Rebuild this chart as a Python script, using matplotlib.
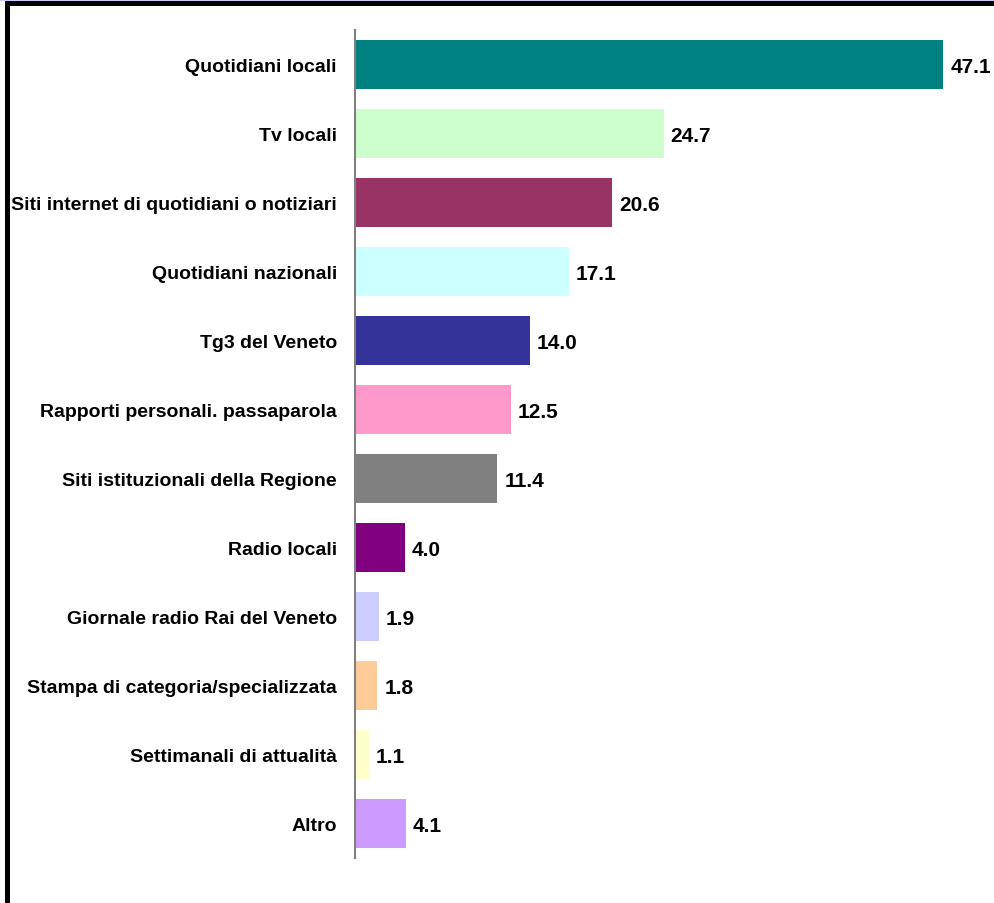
#!/usr/bin/env python3
"""
Horizontal bar chart of information sources (percent of respondents).
"""

import matplotlib.pyplot as plt
from matplotlib.patches import Rectangle

categories = [
    "Quotidiani locali",
    "Tv locali",
    "Siti internet di quotidiani o notiziari",
    "Quotidiani nazionali",
    "Tg3 del Veneto",
    "Rapporti personali. passaparola",
    "Siti istituzionali della Regione",
    "Radio locali",
    "Giornale radio Rai del Veneto",
    "Stampa di categoria/specializzata",
    "Settimanali di attualità",
    "Altro",
]
values = [47.1, 24.7, 20.6, 17.1, 14.0, 12.5, 11.4, 4.0, 1.9, 1.8, 1.1, 4.1]
colors = [
    "#008080", "#CCFFCC", "#993366", "#CCFFFF", "#333399", "#FF99CC",
    "#808080", "#800080", "#CCCCFF", "#FFCC99", "#FFFFCC", "#CC99FF",
]

W, H = 994, 904
plt.rcParams["font.family"] = ["Liberation Sans", "DejaVu Sans"]

fig = plt.figure(figsize=(W / 100, H / 100), dpi=100)
ax = fig.add_axes([355 / W, (H - 859) / H, (W - 355) / W, 828 / H])

ypos = list(range(len(categories)))
ax.barh(ypos, values, height=0.7, color=colors, edgecolor="none")
for y, v in zip(ypos, values):
    ax.text(v + 0.55, y, f"{v:.1f}", va="center_baseline", ha="left",
            fontsize=15, fontweight="bold")

ax.set_xlim(0, (W - 355) / 12.49)
ax.set_ylim(len(categories) - 0.5, -0.5)
ax.set_yticks(ypos, labels=categories)
ax.tick_params(axis="y", length=0, pad=13, labelsize=14)
for lbl in ax.get_yticklabels():
    lbl.set_fontweight("bold")
    lbl.set_verticalalignment("center_baseline")
ax.set_xticks([])
for side in ("top", "right", "bottom"):
    ax.spines[side].set_visible(False)
ax.spines["left"].set_color("#808080")
ax.spines["left"].set_linewidth(1.5)
ax.set_facecolor("none")

# outer frame: thin lavender strip, then heavy black rules on top and left
fig.patches.append(Rectangle((0, (H - 2) / H), 1, 2 / H, transform=fig.transFigure,
                             facecolor="#CCCCFF", edgecolor="none"))
fig.patches.append(Rectangle((5 / W, (H - 7) / H), 1, 5 / H, transform=fig.transFigure,
                             facecolor="black", edgecolor="none"))
fig.patches.append(Rectangle((5 / W, 0), 5 / W, (H - 2) / H, transform=fig.transFigure,
                             facecolor="black", edgecolor="none"))

fig.savefig("out.png", dpi=100)
plt.close(fig)
